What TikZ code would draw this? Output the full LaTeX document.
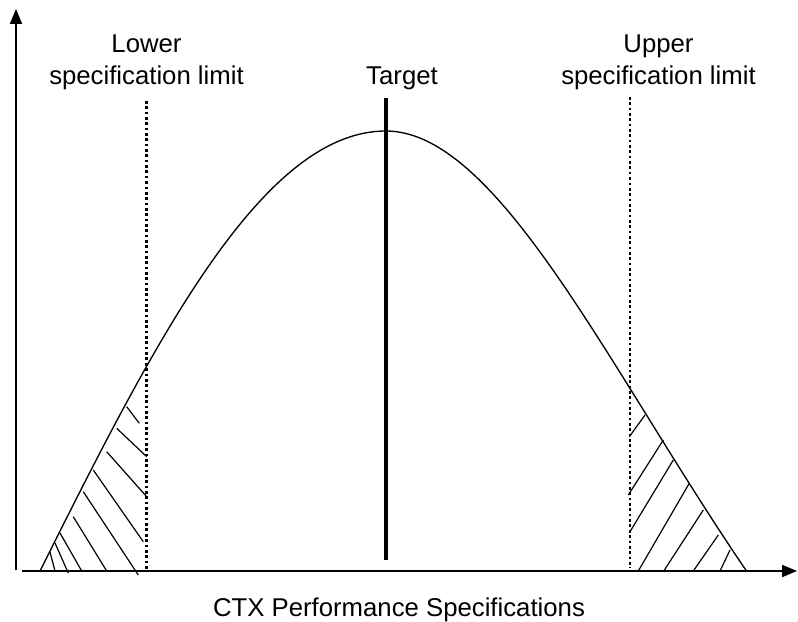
\documentclass[tikz,border=0pt]{standalone}
\usepackage{fontspec}
\setmainfont{Liberation Sans}
\usetikzlibrary{arrows.meta}
\begin{document}
\begin{tikzpicture}[x=0.025cm,y=-0.025cm,
  axis/.style={line width=1.1pt,-{Triangle[length=10.5pt,width=8.5pt]}},
  curve/.style={line width=0.95pt},
  hatch/.style={line width=0.85pt},
  limit/.style={line width=2pt,dash pattern=on 1.9pt off 1.9pt},
  target/.style={line width=2.9pt},
  lbl/.style={font=\fontsize{18.3}{22.5}\selectfont,align=center,inner sep=0pt}]
\useasboundingbox (0,0) rectangle (798,621);

% axes
\coordinate (yo) at (16,570);
\coordinate (ytip) at (16,9);
\coordinate (xo) at (22,571);
\coordinate (xtip) at (797,571);
\draw[axis] (yo) -- (ytip);
\draw[axis] (xo) -- (xtip);

% distribution curve: rising half (cosine) and falling half (cosine blended with a line)
\draw[curve] plot[domain=40:386,samples=90,smooth]
    (\x,{571-440*cos(0.260116*(386-\x))})
  -- plot[domain=386:747,samples=90,smooth]
    (\x,{571-440*((1-0.0018006*(\x-386))*cos(0.249307*(\x-386))+0.0018006*(\x-386)*(1-0.00277*(\x-386)))});

% specification limits and target
\coordinate (lslTop) at (146.7,101);
\coordinate (lslBot) at (146.7,571);
\coordinate (uslTop) at (630,97);
\coordinate (uslBot) at (630,568);
\draw[limit] (lslTop) -- (lslBot);
\draw[limit] (uslTop) -- (uslBot);
\coordinate (tTop) at (386,98);
\coordinate (tBot) at (386,560);
\draw[target] (tTop) -- (tBot);

% hatching below the lower limit
\draw[hatch] (126.7,406.7) -- (139.3,423.3);
\draw[hatch] (116.7,428.3) -- (146.7,456.7);
\draw[hatch] (106.7,451.7) -- (146.7,496.7);
\draw[hatch] (93.3,470) -- (143.3,541.7);
\draw[hatch] (83.3,491.7) -- (138.3,575);
\draw[hatch] (73.3,516.7) -- (106.7,571);
\draw[hatch] (60,533) -- (81.7,571);
\draw[hatch] (55,543) -- (68.3,573);
\draw[hatch] (50,552) -- (55,571);

% hatching above the upper limit
\draw[hatch] (645,415) -- (629.3,436.7);
\draw[hatch] (663.3,440) -- (628.3,495);
\draw[hatch] (673.3,460) -- (630,531.7);
\draw[hatch] (689.3,483.3) -- (638.3,571);
\draw[hatch] (703.3,510) -- (663.3,571.7);
\draw[hatch] (718.3,535) -- (693.3,571);
\draw[hatch] (730,550) -- (720,571);

% labels
\node[lbl,anchor=base] (lsl) at (146.5,84) {Lower\\specification limit};
\node[lbl,anchor=base] (usl) at (658.5,84) {Upper\\specification limit};
\node[lbl,anchor=base] (tgt) at (402,84) {Target};
\node[lbl,anchor=base] (xlab) at (399,616) {CTX Performance Specifications};
\end{tikzpicture}
\end{document}
